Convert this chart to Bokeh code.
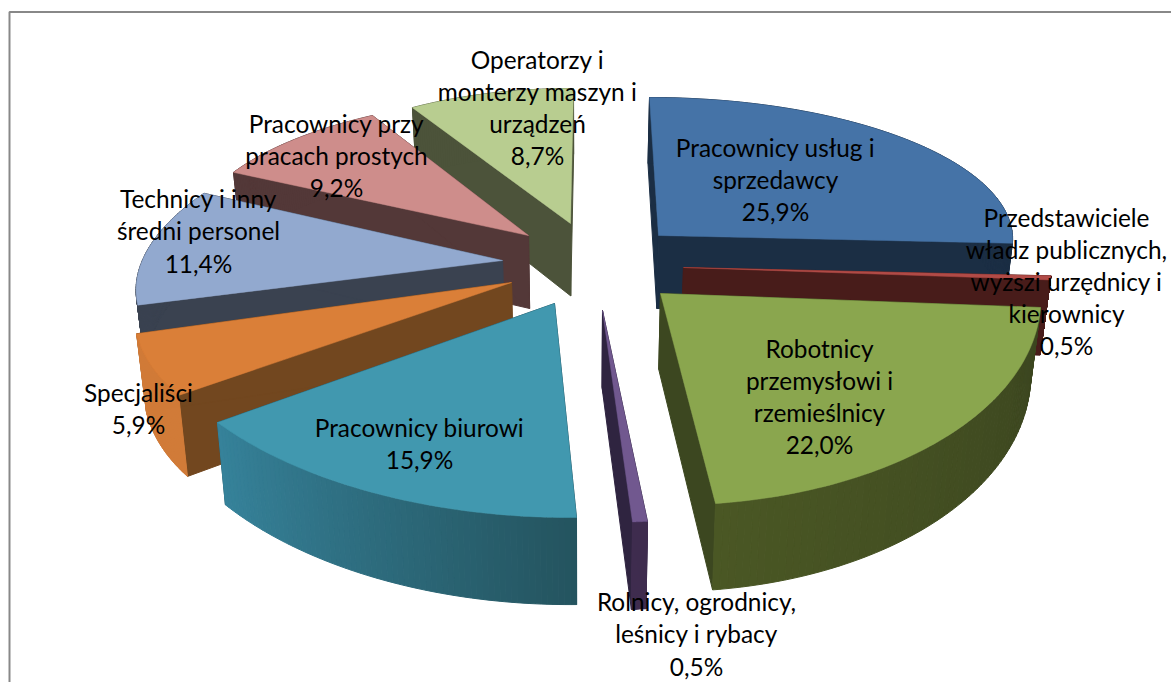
from bokeh.plotting import figure
from bokeh.embed import file_html
from bokeh.resources import INLINE
from bokeh.core.properties import value
import numpy as np

# ---- chart data
names = ["Pracownicy usług i\nsprzedawcy",
         "Przedstawiciele\nwładz publicznych,\nwyższi urzędnicy i\nkierownicy",
         "Robotnicy\nprzemysłowi i\nrzemieślnicy",
         "Rolnicy, ogrodnicy,\nleśnicy i rybacy",
         "Pracownicy biurowi",
         "Specjaliści",
         "Technicy i inny\nśredni personel",
         "Pracownicy przy\npracach prostych",
         "Operatorzy i\nmonterzy maszyn i\nurządzeń"]
shares = [25.9, 0.5, 22.0, 0.5, 15.9, 5.9, 11.4, 9.2, 8.7]

# ---- perspective frame of each exploded slice (apex, 90-degree vector, 0-degree vector)
apex = [(658, 235), (683, 267), (660, 293), (602, 310), (554, 303), (511, 282), (502, 260), (528, 235), (570, 223)]
u_vec = [(354, 0), (368, 1), (380, -4.6), (478, 0), (415.5, 11), (373.5, -1.4), (361, -2), (338, 4), (309, 1)]
v_vec = [(-9, -138), (0, -130), (-17, -211.5), (3, -212), (6.7, -213.7), (56, -187), (63, -160), (23, -138), (3, -135)]

# ---- colours
top_col = ["#4573a7", "#b14b47", "#8aa64e", "#71588f", "#4198af", "#da7f38", "#92a9cf", "#ce8d8b", "#b8cd90"]
cut_col = ["#1b2e44", "#481c1a", "#3c4720", "#2f2440", "#24505e", "#72471f", "#3a4250", "#533838", "#4c533a"]
wall_a = ["#1b2e44", "#481c1a", "#3b451f", "#3f2d4f", "#24545f", "#d17b38", "#3a4250", "#533838", "#4c533a"]
wall_b = ["#1b2e44", "#481c1a", "#4a5724", "#3f2d4f", "#36829a", "#d17b38", "#3a4250", "#533838", "#4c533a"]

# ---- label centres
label_xy = [(775, 179), (1066, 281), (819, 396), (696, 633.5), (419, 443), (138, 408), (198, 230.5), (336, 155), (537, 107)]

draw_order = [0, 1, 2, 3, 8, 7, 6, 5, 4]
VX = 580


def hexrgb(h):
    return np.array([int(h[i:i + 2], 16) for i in (1, 3, 5)], float)


def mix(a, b, t):
    c = hexrgb(a) * (1 - t) + hexrgb(b) * t
    return "#%02x%02x%02x" % tuple(int(round(k)) for k in c)


def drop(x, y):
    d = 73 + 0.05 * (np.asarray(y) - 235)
    return np.asarray(x) + (VX - np.asarray(x)) * 0.022, np.asarray(y) + d


W, H = 1171, 682
p = figure(width=W, height=H, x_range=(0, W), y_range=(H, 0),
           output_backend="svg", toolbar_location=None, min_border=0,
           background_fill_color="white", border_fill_color="white")
p.axis.visible = False
p.grid.visible = False
p.outline_line_color = None

# chart frame
p.line([9, 9, 1200], [700, 11.5, 11.5], line_color="#888888", line_width=2)

edges = np.concatenate([[0], np.cumsum(shares)]) / sum(shares) * 2 * np.pi

for i in draw_order:
    a, b = edges[i], edges[i + 1]
    th = np.linspace(a, b, 70)
    ax, ay = apex[i]
    ux, uy = u_vec[i]
    vx, vy = v_vec[i]
    rx = ax + ux * np.sin(th) + vx * np.cos(th)
    ry = ay + uy * np.sin(th) + vy * np.cos(th)
    bx, by = drop(rx, ry)
    adx, ady = drop(ax, ay)
    # cut faces
    for k in (0, -1):
        p.patch([ax, rx[k], bx[k], adx], [ay, ry[k], by[k], ady],
                fill_color=cut_col[i], line_color=cut_col[i], line_width=1)
    # outer wall
    for k in range(len(th) - 1):
        c = mix(wall_a[i], wall_b[i], k / (len(th) - 2))
        p.patch([rx[k], rx[k + 1], bx[k + 1], bx[k]], [ry[k], ry[k + 1], by[k + 1], by[k]],
                fill_color=c, line_color=c, line_width=1)
    # top
    p.patch(np.r_[ax, rx], np.r_[ay, ry], fill_color=top_col[i], line_color=top_col[i], line_width=0.5)

texts = [n + "\n" + f"{s:.1f}".replace(".", ",") + "%" for n, s in zip(names, shares)]
p.text([c[0] for c in label_xy], [c[1] for c in label_xy], text=texts,
       text_font=value("Lato"), text_font_size="24.4px", text_color="#000000",
       text_align="center", text_baseline="middle", text_line_height=1.11)

open("out.html", "w").write(file_html(p, INLINE))
